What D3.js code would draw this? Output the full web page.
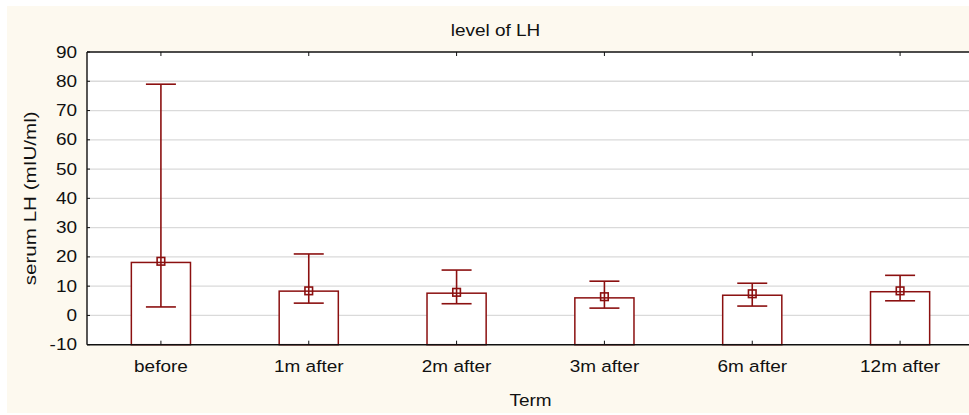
<!DOCTYPE html>
<html>
<head>
<meta charset="utf-8">
<script src="https://cdn.jsdelivr.net/npm/d3@7"></script>
<style>
  html, body { margin: 0; padding: 0; background: #ffffff; }
  svg { display: block; }
  text { font-family: "Liberation Sans", Arial, sans-serif; fill: #111; }
</style>
</head>
<body>
<div id="chart"></div>
<script>
// level of LH by term
const categories = ["before", "1m after", "2m after", "3m after", "6m after", "12m after"];
const barValues  = [18.1, 8.3, 7.6, 6.0, 6.9, 8.1];
const markValues = [18.5, 8.4, 7.9, 6.4, 7.4, 8.4];
const upperValues = [79.0, 21.0, 15.5, 11.7, 11.0, 13.7];
const lowerValues = [2.9, 4.2, 4.0, 2.5, 3.2, 5.0];
const yTicks = [-10, 0, 10, 20, 30, 40, 50, 60, 70, 80, 90];

const W = 969, H = 415;
const RED = "#8b1010";
const FS = 16.5, SX = 1.15;

const svg = d3.select("#chart").append("svg")
  .attr("width", W).attr("height", H);

// outer panel
svg.append("rect")
  .attr("x", 7).attr("y", 6)
  .attr("width", W - 7).attr("height", 407)
  .attr("fill", "#fdf9ef");

const plot = { left: 87, right: 974, top: 52, bottom: 344.7 };

const x = d3.scaleBand()
  .domain(categories)
  .range([plot.left, plot.right])
  .padding(0);

const y = d3.scaleLinear()
  .domain([-10, 90])
  .range([plot.bottom, plot.top]);

// plot background
svg.append("rect")
  .attr("x", plot.left).attr("y", plot.top)
  .attr("width", plot.right - plot.left)
  .attr("height", plot.bottom - plot.top)
  .attr("fill", "#ffffff");

// grid
svg.append("g")
  .selectAll("line")
  .data(yTicks.filter(t => t > -10 && t < 90))
  .enter().append("line")
  .attr("x1", plot.left).attr("x2", plot.right)
  .attr("y1", d => y(d)).attr("y2", d => y(d))
  .attr("stroke", "#dadada")
  .attr("stroke-width", 1.3);

// stretched text helper
function label(g, x0, y0, txt, rot, sx) {
  const t = g.append("text")
    .attr("transform", `translate(${x0},${y0})` + (rot ? ` rotate(${rot})` : "") + ` scale(${sx || SX},1)`)
    .attr("text-anchor", "middle")
    .attr("dominant-baseline", "central")
    .attr("font-size", FS)
    .text(txt);
  return t;
}

// bars
const cx = d => x(d) + x.bandwidth() / 2;
const barW = x.bandwidth() * 0.4;
const capW = 30;

const marks = svg.append("g");

categories.forEach((c, i) => {
  marks.append("rect")
    .attr("x", cx(c) - barW / 2)
    .attr("y", y(barValues[i]))
    .attr("width", barW)
    .attr("height", y(-10) - y(barValues[i]))
    .attr("fill", "#ffffff")
    .attr("stroke", RED)
    .attr("stroke-width", 1.5);
});

categories.forEach((c, i) => {
  const g = marks.append("g")
    .attr("stroke", RED)
    .attr("stroke-width", 1.6)
    .attr("fill", "none");
  g.append("line")
    .attr("x1", cx(c)).attr("x2", cx(c))
    .attr("y1", y(upperValues[i])).attr("y2", y(lowerValues[i]));
  g.append("line")
    .attr("x1", cx(c) - capW / 2).attr("x2", cx(c) + capW / 2)
    .attr("y1", y(upperValues[i])).attr("y2", y(upperValues[i]));
  g.append("line")
    .attr("x1", cx(c) - capW / 2).attr("x2", cx(c) + capW / 2)
    .attr("y1", y(lowerValues[i])).attr("y2", y(lowerValues[i]));
  g.append("rect")
    .attr("x", cx(c) - 3.8).attr("y", y(markValues[i]) - 3.8)
    .attr("width", 7.6).attr("height", 7.6);
});

// axes frame
const axis = svg.append("g").attr("stroke", "#111").attr("stroke-width", 1.4);
axis.append("line")
  .attr("x1", plot.left).attr("x2", plot.right)
  .attr("y1", plot.top).attr("y2", plot.top);
axis.append("line")
  .attr("x1", plot.left).attr("x2", plot.right)
  .attr("y1", plot.bottom).attr("y2", plot.bottom);
axis.append("line")
  .attr("x1", plot.left).attr("x2", plot.left)
  .attr("y1", plot.top).attr("y2", plot.bottom);

// ticks
const ticks = svg.append("g").attr("stroke", "#111").attr("stroke-width", 1);
categories.forEach(c => {
  ticks.append("line").attr("x1", cx(c)).attr("x2", cx(c))
    .attr("y1", plot.top).attr("y2", plot.top + 4);
  ticks.append("line").attr("x1", cx(c)).attr("x2", cx(c))
    .attr("y1", plot.bottom).attr("y2", plot.bottom - 4);
});
yTicks.forEach(t => {
  ticks.append("line").attr("x1", plot.left).attr("x2", plot.left + 3)
    .attr("y1", y(t)).attr("y2", y(t));
});

// tick labels
const labels = svg.append("g");
yTicks.forEach(t => {
  labels.append("text")
    .attr("transform", `translate(77,${y(t)}) scale(${SX},1)`)
    .attr("text-anchor", "end")
    .attr("dominant-baseline", "central")
    .attr("font-size", FS)
    .text(t);
});
categories.forEach(c => label(labels, cx(c), 366, c));

// titles
label(labels, 495.5, 30, "level of LH");
label(labels, (plot.left + plot.right) / 2, 400, "Term");
label(labels, 30, (plot.top + plot.bottom) / 2, "serum LH (mIU/ml)", -90, 1.25);
</script>
</body>
</html>
